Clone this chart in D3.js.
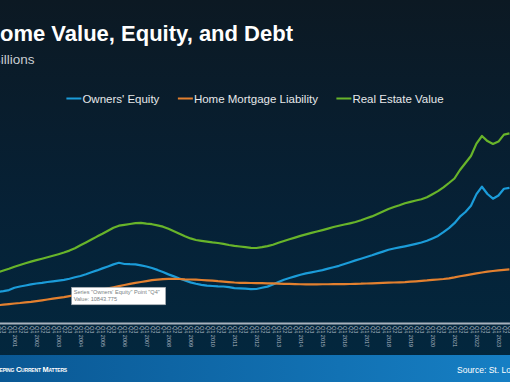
<!DOCTYPE html>
<meta charset="utf-8">
<script src="https://d3js.org/d3.v7.min.js"></script>
<style>
  body { margin: 0; background: #0b1822; overflow: hidden; }
  svg { display: block; font-family: Arial, "Liberation Sans", sans-serif; }
</style>
<div id="chart"></div>
<script>
// quarters shown on the category axis
const quarters = [
  "2000 Q2","2000 Q3","2000 Q4",
  "2001 Q1","2001 Q2","2001 Q3","2001 Q4","2002 Q1","2002 Q2","2002 Q3","2002 Q4",
  "2003 Q1","2003 Q2","2003 Q3","2003 Q4","2004 Q1","2004 Q2","2004 Q3","2004 Q4",
  "2005 Q1","2005 Q2","2005 Q3","2005 Q4","2006 Q1","2006 Q2","2006 Q3","2006 Q4",
  "2007 Q1","2007 Q2","2007 Q3","2007 Q4","2008 Q1","2008 Q2","2008 Q3","2008 Q4",
  "2009 Q1","2009 Q2","2009 Q3","2009 Q4","2010 Q1","2010 Q2","2010 Q3","2010 Q4",
  "2011 Q1","2011 Q2","2011 Q3","2011 Q4","2012 Q1","2012 Q2","2012 Q3","2012 Q4",
  "2013 Q1","2013 Q2","2013 Q3","2013 Q4","2014 Q1","2014 Q2","2014 Q3","2014 Q4",
  "2015 Q1","2015 Q2","2015 Q3","2015 Q4","2016 Q1","2016 Q2","2016 Q3","2016 Q4",
  "2017 Q1","2017 Q2","2017 Q3","2017 Q4","2018 Q1","2018 Q2","2018 Q3","2018 Q4",
  "2019 Q1","2019 Q2","2019 Q3","2019 Q4","2020 Q1","2020 Q2","2020 Q3","2020 Q4",
  "2021 Q1","2021 Q2","2021 Q3","2021 Q4","2022 Q1","2022 Q2","2022 Q3","2022 Q4",
  "2023 Q1","2023 Q2","2023 Q3"
];

// billions of dollars
const ownersEquity = [
  7350,7560,7800,8350,8650,8890,9150,9370,9530,9720,9890,10060,10240,10500,10843.775,11150,
  11570,12050,12470,12950,13420,13900,14280,13990,13940,13920,13680,13400,13040,12590,12100,11530,
  11050,10550,10100,9630,9300,9060,8850,8770,8700,8660,8490,8280,8210,8130,8040,8060,
  8350,8630,9110,9700,10270,10670,11050,11430,11760,12020,12280,12550,12880,13210,13560,13990,
  14420,14850,15250,15650,16060,16510,16930,17360,17670,17930,18190,18470,18780,19090,19490,20060,
  20660,21560,22510,23670,25210,26320,27790,30570,32320,30590,29480,30240,31830,32060
];
const mortgageLiability = [
  4220,4360,4480,4620,4740,4890,5000,5170,5360,5570,5760,5950,6140,6380,6640,6900,
  7160,7420,7680,7940,8210,8470,8750,9010,9270,9510,9720,9940,10150,10290,10390,10480,
  10480,10430,10360,10320,10270,10200,10130,10030,9910,9820,9700,9600,9530,9510,9490,9460,
  9440,9420,9390,9340,9300,9270,9230,9190,9180,9180,9180,9190,9190,9200,9200,9220,
  9250,9300,9320,9370,9420,9460,9510,9560,9600,9650,9700,9790,9890,10010,10100,10220,
  10320,10430,10580,10810,11080,11310,11530,11760,11980,12190,12330,12470,12590,12710
];
const realEstateValue = [
  12020,12450,12850,13330,13750,14180,14560,14920,15250,15580,15940,16320,16720,17170,17720,18430,
  19090,19780,20490,21150,21870,22580,23080,23290,23480,23690,23760,23570,23430,23150,22840,22340,
  21770,21180,20590,20060,19680,19470,19280,19110,18970,18760,18500,18280,18140,17980,17830,17790,
  18000,18240,18570,19020,19450,19850,20250,20660,21010,21370,21700,22030,22390,22770,23070,23360,
  23640,23950,24360,24830,25280,25850,26440,27040,27490,27910,28390,28740,29050,29340,29830,30540,
  31280,32180,33200,34270,36280,37940,39600,42550,44350,43140,42450,43020,44660,44960
];

const seriesNames = ["Owners' Equity", "Home Mortgage Liability", "Real Estate Value"];
const seriesValues = [ownersEquity, mortgageLiability, realEstateValue];
const seriesColors = ["#1b9cd9", "#e3802f", "#68b42a"];

// hovered point shown in the tooltip
const tipSeries = 0, tipQuarter = "2003 Q4";

const width = 510, height = 382;

const svg = d3.select("#chart")
  .append("svg")
    .attr("width", width)
    .attr("height", height);

// background
const defs = svg.append("defs");
const bg = defs.append("linearGradient").attr("id", "bg")
  .attr("x1", 0).attr("y1", 0).attr("x2", 0).attr("y2", 1);
bg.append("stop").attr("offset", "0%").attr("stop-color", "#0c1923");
bg.append("stop").attr("offset", "55%").attr("stop-color", "#062136");
bg.append("stop").attr("offset", "100%").attr("stop-color", "#02283f");
const foot = defs.append("linearGradient").attr("id", "foot")
  .attr("x1", 0).attr("y1", 0).attr("x2", 1).attr("y2", 0);
foot.append("stop").attr("offset", "0%").attr("stop-color", "#0a5894");
foot.append("stop").attr("offset", "100%").attr("stop-color", "#167fc4");

svg.append("rect").attr("width", width).attr("height", height).attr("fill", "url(#bg)");

// title + subtitle
svg.append("text")
  .attr("x", 293).attr("y", 41)
  .attr("text-anchor", "end")
  .style("font-size", "22px").style("font-weight", "bold")
  .attr("fill", "#ffffff")
  .text("Home Value, Equity, and Debt");

svg.append("text")
  .attr("x", 34.5).attr("y", 64)
  .attr("text-anchor", "end")
  .style("font-size", "13.5px")
  .attr("fill", "#c9cdd1")
  .text("In Billions");

// scales
const x = d3.scalePoint()
  .domain(quarters)
  .range([-2.05, 509.45]);

const y = d3.scaleLinear()
  .domain([0, 60000])
  .range([323, 70]);

// x axis
const xAxis = svg.append("g")
  .attr("transform", "translate(0,323)")
  .call(d3.axisBottom(x)
    .tickSize(0)
    .tickSizeOuter(0)
    .tickFormat(q => {
      const [yr, qt] = q.split(" ");
      return qt === "Q1" ? qt + " " + yr : qt;
    }));
xAxis.select(".domain")
  .attr("stroke", "#a7b2bd")
  .attr("stroke-width", 2);
xAxis.selectAll("text")
  .attr("fill", "#aeb9c3")
  .style("font-size", "5.5px")
  .attr("transform", "rotate(90)")
  .attr("x", 3)
  .attr("y", 0)
  .attr("dy", "0.35em")
  .style("text-anchor", "start");

// lines
const line = d3.line()
  .x((d, i) => x(quarters[i]))
  .y(d => y(d));

svg.selectAll(".series")
  .data(seriesValues)
  .join("path")
    .attr("class", "series")
    .attr("d", d => line(d))
    .attr("fill", "none")
    .attr("stroke", (d, i) => seriesColors[i])
    .attr("stroke-width", 2.2)
    .attr("stroke-linejoin", "round");

// legend
const legend = svg.append("g").attr("transform", "translate(0,98.5)");
const items = legend.selectAll("g")
  .data(seriesNames)
  .join("g");
items.append("line")
  .attr("x1", 0).attr("x2", 15)
  .attr("stroke", (d, i) => seriesColors[i])
  .attr("stroke-width", 2);
items.append("text")
  .attr("x", 16).attr("dy", "0.35em")
  .style("font-size", "11.5px")
  .attr("fill", "#e6e8ea")
  .text(d => d);
let widths = [];
items.each(function() { widths.push(16 + d3.select(this).select("text").node().getComputedTextLength()); });
const gap = 18.5;
const total = d3.sum(widths) + gap * (widths.length - 1);
let cursor = width / 2 - total / 2;
items.attr("transform", (d, i) => {
  const t = `translate(${cursor},0)`;
  cursor += widths[i] + gap;
  return t;
});

// tooltip of the hovered point
const tipVal = seriesValues[tipSeries][quarters.indexOf(tipQuarter)];
const tx = x(tipQuarter) - 3.3, ty = y(tipVal) + 10;
const tip = svg.append("g").attr("transform", `translate(${tx},${ty})`);
tip.append("rect")
  .attr("width", 94).attr("height", 17.5)
  .attr("fill", "#ffffff")
  .attr("stroke", "#9aa0a6").attr("stroke-width", 0.6);
tip.append("text")
  .attr("x", 2).attr("y", 6.5)
  .style("font-size", "5.6px").attr("fill", "#7a7f85")
  .text(`Series "${seriesNames[tipSeries]}" Point "${tipQuarter.split(" ")[1]}"`);
tip.append("text")
  .attr("x", 2).attr("y", 13.5)
  .style("font-size", "5.6px").attr("fill", "#7a7f85")
  .text("Value: " + tipVal);

// footer band
svg.append("rect")
  .attr("x", 0).attr("y", 355)
  .attr("width", width).attr("height", height - 355)
  .attr("fill", "url(#foot)");
svg.append("text")
  .attr("x", 67).attr("y", 371.5)
  .attr("text-anchor", "end")
  .style("font-size", "7.4px").style("font-weight", "bold")
  .style("font-variant", "small-caps")
  .style("letter-spacing", "-0.2px")
  .attr("fill", "#ffffff")
  .text("Keeping Current Matters");
svg.append("text")
  .attr("x", 457).attr("y", 372.5)
  .style("font-size", "8.5px")
  .attr("fill", "#ffffff")
  .text("Source: St. Louis Fed");
</script>
